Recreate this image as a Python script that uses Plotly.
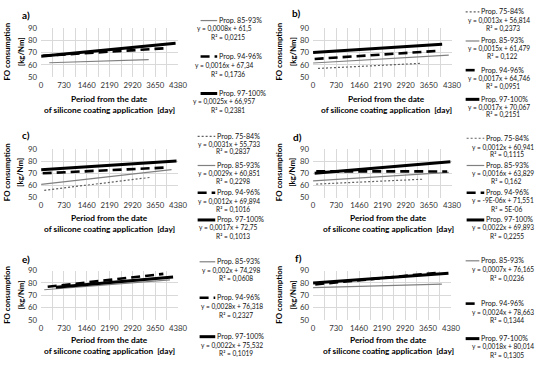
import plotly.graph_objects as go

W, H = 550, 366
FONT = "Lato, Open Sans, sans-serif"

panel_labels = ["a)", "b)", "c)", "d)", "e)", "f)"]
x_ticks = [0, 730, 1460, 2190, 2920, 3650, 4380]
y_ticks = [50, 60, 70, 80, 90]

# Trend lines per panel: series name, x start/end [day], y start/end [kg/Nm]
series_a = ["Prop. 85-93%", "Prop. 94-96%", "Prop. 97-100%"]
x0_a = [260, 50, 0];      x1_a = [3440, 4070, 4300]
y0_a = [61.7, 67.4, 67.0]; y1_a = [64.3, 73.8, 77.7]
eq_a = ["y = 0,0008x + 61,5", "y = 0,0016x + 67,34", "y = 0,0025x + 66,957"]
r2_a = ["R² = 0,0215", "R² = 0,1736", "R² = 0,2381"]

series_b = ["Prop. 75-84%", "Prop. 85-93%", "Prop. 94-96%", "Prop. 97-100%"]
x0_b = [155, 0, 50, 0];        x1_b = [3400, 4280, 3970, 4070]
y0_b = [57.0, 61.5, 64.8, 70.1]; y1_b = [61.2, 67.9, 71.5, 77.0]
eq_b = ["y = 0,0013x + 56,814", "y = 0,0015x + 61,479", "y = 0,0017x + 64,746", "y = 0,0017x + 70,067"]
r2_b = ["R² = 0,2373", "R² = 0,122", "R² = 0,0951", "R² = 0,2151"]

series_c = ["Prop. 75-84%", "Prop. 85-93%", "Prop. 94-96%", "Prop. 97-100%"]
x0_c = [100, 0, 50, 0];          x1_c = [3490, 4170, 4070, 4330]
y0_c = [56.0, 60.9, 70.0, 72.8]; y1_c = [66.6, 73.0, 74.8, 80.1]
eq_c = ["y = 0,0031x + 55,733", "y = 0,0029x + 60,851", "y = 0,0012x + 69,894", "y = 0,0017x + 72,75"]
r2_c = ["R² = 0,2837", "R² = 0,2298", "R² = 0,1016", "R² = 0,1013"]

series_d = ["Prop. 75-84%", "Prop. 85-93%", "Prop. 94-96%", "Prop. 97-100%"]
x0_d = [100, 0, 100, 50];        x1_d = [3450, 4280, 4230, 4330]
y0_d = [61.1, 63.8, 71.6, 70.0]; y1_d = [65.1, 70.7, 71.5, 79.4]
eq_d = ["y = 0,0012x + 60,941", "y = 0,0016x + 63,829", "y = -9E-06x + 71,551", "y = 0,0022x + 69,893"]
r2_d = ["R² = 0,1115", "R² = 0,162", "R² = 5E-06", "R² = 0,2255"]

series_e = ["Prop. 85-93%", "Prop. 94-96%", "Prop. 97-100%"]
x0_e = [100, 210, 470];    x1_e = [4120, 3910, 4220]
y0_e = [74.5, 76.9, 76.6]; y1_e = [82.5, 87.3, 84.8]
eq_e = ["y = 0,002x + 74,298", "y = 0,0028x + 76,318", "y = 0,0022x + 75,532"]
r2_e = ["R² = 0,0608", "R² = 0,2327", "R² = 0,1019"]

series_f = ["Prop. 85-93%", "Prop. 94-96%", "Prop. 97-100%"]
x0_f = [0, 70, 0];         x1_f = [4090, 4040, 4300]
y0_f = [76.2, 78.8, 80.0]; y1_f = [79.0, 88.4, 87.75]
eq_f = ["y = 0,0007x + 76,165", "y = 0,0024x + 78,663", "y = 0,0018x + 80,014"]
r2_f = ["R² = 0,0236", "R² = 0,1344", "R² = 0,1305"]

panels = [
    (series_a, x0_a, x1_a, y0_a, y1_a, eq_a, r2_a),
    (series_b, x0_b, x1_b, y0_b, y1_b, eq_b, r2_b),
    (series_c, x0_c, x1_c, y0_c, y1_c, eq_c, r2_c),
    (series_d, x0_d, x1_d, y0_d, y1_d, eq_d, r2_d),
    (series_e, x0_e, x1_e, y0_e, y1_e, eq_e, r2_e),
    (series_f, x0_f, x1_f, y0_f, y1_f, eq_f, r2_f),
]

styles = {
    "Prop. 75-84%": dict(color="#606060", width=1.2, dash="2px,2px"),
    "Prop. 85-93%": dict(color="#808080", width=1.2, dash="solid"),
    "Prop. 94-96%": dict(color="#000000", width=2.6, dash="9px,5px"),
    "Prop. 97-100%": dict(color="#000000", width=3.0, dash="solid"),
}

# layout geometry in pixels (x0, x1, ytop, ybottom)
plot_px = [
    (40, 180, 24, 74), (318, 460, 24, 74),
    (40, 180, 148, 198), (318, 460, 148, 198),
    (40, 180, 273, 324), (318, 459, 273, 324),
]
label_px = [(25, 10), (301, 8), (25, 134), (302, 136), (25, 261), (303, 260)]
title_px = [(110, 97, 108), (393, 97, 108), (110, 219, 230), (395, 219, 230), (110, 344, 356), (395, 344, 356)]
ytitle_px = [(5, 19, 48), (283, 297, 48), (5, 19, 172), (283, 297, 172), (5, 19, 298), (283, 297, 298)]
leg_x = [(203, 220, 227), (474, 488, 508), (200, 218, 232), (475, 493, 512), (202, 218, 235), (474, 488, 512)]
leg_y = [
    [(16, 24, 33), (53, 62, 71), (91, 99, 108)],
    [(7, 16, 24), (37, 45, 53), (67, 76, 84), (97, 105, 113)],
    [(135, 143, 151), (165, 173, 181), (193, 202, 210), (221, 229, 238)],
    [(137, 146, 154), (165, 173, 181), (193, 201, 210), (221, 229, 238)],
    [(264, 273, 281), (301, 310, 319), (341, 350, 358)],
    [(263, 272, 281), (307, 316, 324), (343, 351, 360)],
]

def px(x):
    return x / W

def py(y):
    return 1 - y / H

fig = go.Figure()
annotations = []
shapes = []

for i, (names, xs0, xs1, ys0, ys1, eqs, r2s) in enumerate(panels):
    k = "" if i == 0 else str(i + 1)
    xa, ya = "x" + k, "y" + k
    for n, a0, a1, b0, b1 in zip(names, xs0, xs1, ys0, ys1):
        fig.add_trace(go.Scatter(x=[a0, a1], y=[b0, b1], mode="lines",
                                 line=styles[n], xaxis=xa, yaxis=ya,
                                 showlegend=False, hoverinfo="skip"))
    x0p, x1p, ytp, ybp = plot_px[i]
    axis_common = dict(showline=False, zeroline=False, ticks="",
                       tickfont=dict(family=FONT, size=7.8, color="#333333"))
    fig.layout["xaxis" + k] = dict(
        domain=[px(x0p), px(x1p)], range=[0, 4380], tickvals=x_ticks,
        showgrid=True, gridcolor="#d9d9d9", gridwidth=1,
        minor=dict(dtick=365, tick0=0, showgrid=True, gridcolor="#d9d9d9", gridwidth=1),
        anchor=ya, ticklabelstandoff=2, **axis_common)
    fig.layout["yaxis" + k] = dict(
        domain=[py(ybp), py(ytp)], range=[50, 90], tickvals=y_ticks,
        showgrid=True, gridcolor="#d9d9d9", gridwidth=1,
        anchor=xa, ticklabelstandoff=3, **axis_common)
    # panel label
    lx, ly = label_px[i]
    annotations.append(dict(text="<b>" + panel_labels[i] + "</b>", x=px(lx), y=py(ly),
                            xref="paper", yref="paper", showarrow=False,
                            xanchor="center", yanchor="middle",
                            font=dict(family=FONT, size=10, color="#000")))
    # x title
    tx, t1, t2 = title_px[i]
    for txt, yy in [("Period from the date", t1), ("of silicone coating application  [day]", t2)]:
        annotations.append(dict(text="<b>" + txt + "</b>", x=px(tx), y=py(yy),
                                xref="paper", yref="paper", showarrow=False,
                                xanchor="center", yanchor="middle",
                                font=dict(family=FONT, size=8.3, color="#000")))
    # y title
    a1x, a2x, ay = ytitle_px[i]
    for txt, xx in [("FO consumption", a1x), ("[kg/Nm]", a2x)]:
        annotations.append(dict(text="<b>" + txt + "</b>", x=px(xx), y=py(ay),
                                xref="paper", yref="paper", showarrow=False,
                                textangle=-90, xanchor="center", yanchor="middle",
                                font=dict(family=FONT, size=7.8, color="#000")))
    # legend entries
    lxa, lxb, lxc = leg_x[i]
    for n, e, r, (yl, ye, yr) in zip(names, eqs, r2s, leg_y[i]):
        st = styles[n]
        shapes.append(dict(type="line", xref="paper", yref="paper",
                           x0=px(lxa), x1=px(lxb), y0=py(yl), y1=py(yl),
                           line=dict(color=st["color"], width=st["width"], dash=st["dash"])))
        annotations.append(dict(text=n, x=px(lxb), y=py(yl), xref="paper", yref="paper",
                                showarrow=False, xanchor="left", yanchor="middle",
                                font=dict(family=FONT, size=7.1, color="#111")))
        annotations.append(dict(text=e, x=px(lxc), y=py(ye), xref="paper", yref="paper",
                                showarrow=False, xanchor="center", yanchor="middle",
                                font=dict(family=FONT, size=6.6, color="#111")))
        annotations.append(dict(text=r, x=px(lxc + 4), y=py(yr), xref="paper", yref="paper",
                                showarrow=False, xanchor="center", yanchor="middle",
                                font=dict(family=FONT, size=6.6, color="#111")))

fig.update_layout(width=W, height=H, margin=dict(l=0, r=0, t=0, b=0),
                  paper_bgcolor="white", plot_bgcolor="white",
                  annotations=annotations, shapes=shapes,
                  font=dict(family=FONT))
fig.write_html("out.html", config={"displayModeBar": False},
               post_script="document.body.style.margin='0';")
